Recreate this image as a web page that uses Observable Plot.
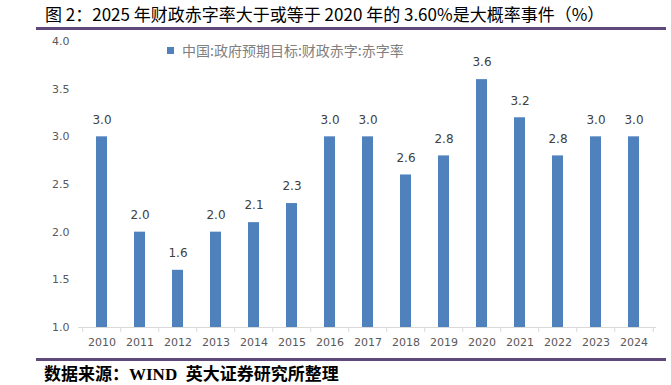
<!DOCTYPE html>
<html>
<head>
<meta charset="utf-8">
<script src="https://cdn.jsdelivr.net/npm/d3@7"></script>
<script src="https://cdn.jsdelivr.net/npm/@observablehq/plot@0.6"></script>
<style>
  html, body { margin: 0; padding: 0; background: #fff; }
  #wrap { position: relative; width: 671px; height: 385px; overflow: hidden; }
  .title { position: absolute; left: 45px; top: 3px; font: 17px "Noto Sans CJK SC", sans-serif; color: #000; white-space: nowrap; line-height: 22px; }
  .rule { position: absolute; left: 36px; width: 630px; height: 3px; background: #5f497a; }
  .footer { position: absolute; left: 44px; top: 364px; font: bold 17px "Liberation Serif", "Noto Sans CJK SC", serif; color: #000; white-space: nowrap; line-height: 22px; }
  .legend { position: absolute; left: 167px; top: 41px; font: 14px "Noto Sans CJK SC", sans-serif; color: #808080; white-space: nowrap; display: flex; align-items: center; line-height: 18px; }
  .legend .sw { width: 7px; height: 7px; background: #4f81bd; margin-right: 8px; }
  #chart { position: absolute; left: 0; top: 31px; }
</style>
</head>
<body>
<div id="wrap">
  <div class="title">图 2：2025 年财政赤字率大于或等于 2020 年的 3.60%是大概率事件（%）</div>
  <div class="rule" style="top:27px"></div>
  <div id="chart"></div>
  <div class="legend"><span class="sw"></span><span>中国:政府预期目标:财政赤字:赤字率</span></div>
  <div class="rule" style="top:358px"></div>
  <div class="footer">数据来源：WIND&nbsp; 英大证券研究所整理</div>
</div>
<script>
const years = ["2010","2011","2012","2013","2014","2015","2016","2017","2018","2019","2020","2021","2022","2023","2024"];
const values = [3.0, 2.0, 1.6, 2.0, 2.1, 2.3, 3.0, 3.0, 2.6, 2.8, 3.6, 3.2, 2.8, 3.0, 3.0];
const yTicks = [1.0, 1.5, 2.0, 2.5, 3.0, 3.5, 4.0];
const seriesName = "中国:政府预期目标:财政赤字:赤字率";

const data = years.map((year, i) => ({year, value: values[i]}));
const yMin = yTicks[0], yMax = yTicks[yTicks.length - 1];

const W = 671, H = 322, ML = 78, MR = 15, MT = 10, MB = 26;
const step = (W - ML - MR) / years.length;
const font = "DejaVu Sans, sans-serif";

const chart = Plot.plot({
  width: W,
  height: H,
  marginLeft: ML,
  marginRight: MR,
  marginTop: MT,
  marginBottom: MB,
  style: {fontFamily: font, background: "#fff"},
  x: {domain: years, paddingInner: 0.72, paddingOuter: 0.36, align: 0.5},
  y: {domain: [yMin, yMax]},
  marks: [
    Plot.axisY({ticks: yTicks, tickSize: 0, tickPadding: 9, tickFormat: d => d.toFixed(1), fontSize: 11, color: "#595959", label: null}),
    Plot.axisX({tickSize: 0, tickPadding: 11, fontSize: 11, color: "#595959", label: null}),
    Plot.axisX({ticks: years, tickSize: 5, dx: -step / 2, tickFormat: () => "", stroke: "#d9d9d9", label: null}),
    Plot.axisX({ticks: years.slice(-1), tickSize: 5, dx: step / 2, tickFormat: () => "", stroke: "#d9d9d9", label: null}),
    Plot.ruleY([yMin], {stroke: "#d9d9d9"}),
    Plot.barY(data, {x: "year", y1: yMin, y2: "value", fill: "#4f81bd"}),
    Plot.text(data, {x: "year", y: "value", text: d => d.value.toFixed(1), dy: -17, fill: "#404040", fontSize: 12, fontFamily: font})
  ]
});
document.getElementById("chart").appendChild(chart);
</script>
</body>
</html>
